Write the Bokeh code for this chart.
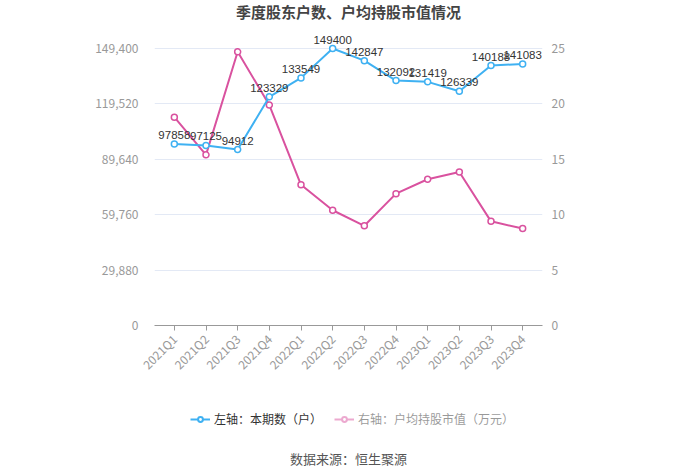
from math import pi
from bokeh.plotting import figure
from bokeh.layouts import column
from bokeh.models import (Range1d, FactorRange, LinearAxis, FixedTicker, NumeralTickFormatter,
                          ColumnDataSource, LabelSet, Label, Legend, LegendItem)
from bokeh.core.properties import value
from bokeh.embed import file_html
from bokeh.resources import INLINE

quarters = ["2021Q1", "2021Q2", "2021Q3", "2021Q4", "2022Q1", "2022Q2",
            "2022Q3", "2022Q4", "2023Q1", "2023Q2", "2023Q3", "2023Q4"]
holders = [97858, 97125, 94912, 123329, 133549, 149400,
           142847, 132092, 131419, 126339, 140188, 141083]
avg_value = [18.8, 15.4, 24.7, 19.9, 12.7, 10.4, 9.0, 11.9, 13.2, 13.85, 9.4, 8.75]
left_ticks = [0, 29880, 59760, 89640, 119520, 149400]
right_ticks = [0, 5, 10, 15, 20, 25]

FONT = "Noto Sans CJK SC"
NUM_FONT = "Liberation Sans"
BLUE = "#3fb1f2"
PINK = "#d9529f"

# frame extends a little beyond the gridded area so data labels are not clipped
PLOT_H = 277
PLOT_W = 380
EXTRA_TOP = 18
SIDE = 4
FRAC = (PLOT_H + EXTRA_TOP) / PLOT_H
HEAD_H = 30
MAIN_H = 360
FOOT_H = 473 - HEAD_H - MAIN_H

common = dict(output_backend="svg", toolbar_location=None)

# header with the title
head = figure(width=700, height=HEAD_H, x_range=Range1d(0, 1), y_range=Range1d(0, 1),
              x_axis_type=None, y_axis_type=None, min_border=0, **common)
head.outline_line_color = None
head.grid.visible = False
head.add_layout(Label(x=190 + SIDE, y=HEAD_H - 11, x_units="screen", y_units="screen",
                      text="季度股东户数、户均持股市值情况", text_align="center",
                      text_baseline="middle", text_font=FONT, text_font_size="15px",
                      text_font_style="bold", text_color="#444444"))

main = figure(width=700, height=MAIN_H,
              x_range=FactorRange(factors=quarters, range_padding=2 * SIDE / PLOT_W),
              y_range=Range1d(0, left_ticks[-1] * FRAC),
              min_border_left=158 - SIDE, min_border_right=162 - SIDE,
              min_border_top=48 - HEAD_H - EXTRA_TOP,
              min_border_bottom=HEAD_H + MAIN_H - 325, **common)
main.extra_y_ranges = {"right": Range1d(0, right_ticks[-1] * FRAC)}
main.outline_line_color = None
main.background_fill_color = "white"

ya = main.yaxis[0]
ya.ticker = FixedTicker(ticks=left_ticks)
ya.formatter = NumeralTickFormatter(format="0,0")
ry = LinearAxis(y_range_name="right", ticker=FixedTicker(ticks=right_ticks))
main.add_layout(ry, "right")
for ax, so in [(ya, 6 + SIDE), (ry, 7 - SIDE)]:
    ax.axis_line_color = None
    ax.major_tick_line_color = None
    ax.minor_tick_line_color = None
    ax.major_label_text_color = "#999999"
    ax.major_label_text_font = FONT
    ax.major_label_text_font_size = "12px"
    ax.major_label_standoff = so

xa = main.xaxis[0]
xa.major_label_orientation = pi / 4
xa.axis_line_color = "#999999"
xa.major_tick_line_color = "#999999"
xa.major_tick_out = 5
xa.major_tick_in = 0
xa.major_label_text_color = "#999999"
xa.major_label_text_font = FONT
xa.major_label_text_font_size = "12px"
xa.major_label_standoff = 6

main.xgrid.grid_line_color = None
main.ygrid.ticker = FixedTicker(ticks=left_ticks)
main.ygrid.grid_line_color = "#e3e9f5"
main.ygrid.grid_line_width = 1

src = ColumnDataSource(dict(q=quarters, h=holders, v=avg_value,
                            lab=[str(h) for h in holders]))

main.line("q", "v", source=src, y_range_name="right", color=PINK, line_width=2)
main.scatter("q", "v", source=src, y_range_name="right", size=6, fill_color="white",
             line_color=PINK, line_width=1.5)
main.line("q", "h", source=src, color=BLUE, line_width=2)
main.scatter("q", "h", source=src, size=6, fill_color="white", line_color=BLUE, line_width=1.5)

labels = LabelSet(x="q", y="h", text="lab", source=src, text_align="center",
                  text_baseline="bottom", y_offset=5, text_font=value(NUM_FONT),
                  text_font_size=value("11.5px"), text_color="#333333")
main.add_layout(labels)

# footer: legend and source note
foot = figure(width=700, height=FOOT_H, x_range=Range1d(0, 1), y_range=Range1d(0, 1),
              x_axis_type=None, y_axis_type=None, min_border=0, **common)
foot.outline_line_color = None
foot.grid.visible = False

far = [-10]
lb1 = foot.line([0.5], far, color=BLUE, line_width=2)
lb2 = foot.scatter([0.5], far, size=9, fill_color="white", line_color=BLUE, line_width=2)
lp1 = foot.line([0.5], far, color=PINK, line_width=2, visible=False)
lp2 = foot.scatter([0.5], far, size=9, fill_color="white", line_color=PINK,
                   line_width=2, visible=False)

FOOT_TOP = HEAD_H + MAIN_H
lg = Legend(items=[LegendItem(label="左轴：本期数（户）", renderers=[lb1, lb2]),
                   LegendItem(label="右轴：户均持股市值（万元）", renderers=[lp1, lp2])],
            location=(32 + SIDE, FOOT_H - (417 - FOOT_TOP) - 10), orientation="horizontal",
            padding=0, margin=0,
            border_line_color=None, background_fill_alpha=0, glyph_width=20,
            glyph_height=12, label_standoff=4, spacing=12, label_text_font=FONT,
            label_text_font_size="12px", label_text_color="#333333",
            click_policy="hide", inactive_fill_color="white", inactive_fill_alpha=0.5)
foot.add_layout(lg, "center")

foot.add_layout(Label(x=190 + SIDE, y=FOOT_H - (458 - FOOT_TOP), x_units="screen",
                      y_units="screen", text="数据来源：恒生聚源", text_align="center",
                      text_baseline="middle", text_font=FONT, text_font_size="13px",
                      text_color="#555555"))

p = column(head, main, foot, spacing=0)
open("out.html", "w").write(file_html(p, INLINE))
